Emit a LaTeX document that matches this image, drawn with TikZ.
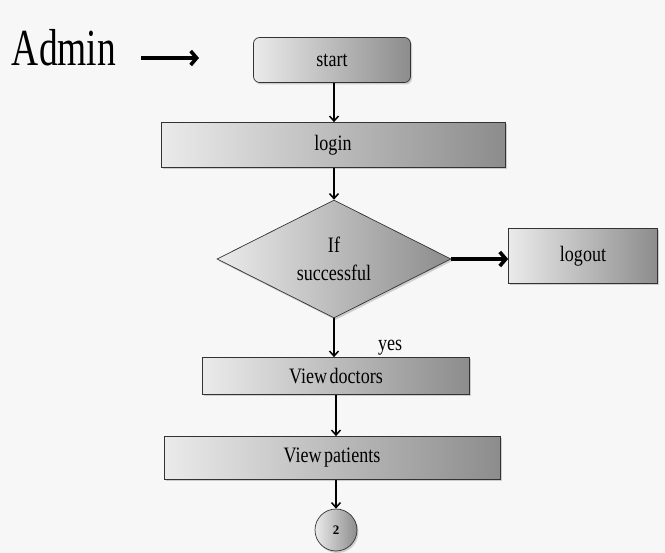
\documentclass[tikz,border=0pt]{standalone}
\usepackage{fontspec}
\setmainfont{Liberation Serif}
\newfontfamily\narrowserif[FakeStretch=0.82]{Liberation Serif}
\newfontfamily\titleserif[FakeStretch=0.72]{Liberation Serif}
\usepackage{tikz}
\usetikzlibrary{arrows.meta,shapes.geometric,shadows}

\tikzset{
	shade box/.style={draw=black!80, line width=0.7pt, left color=white!92!black, right color=black!45,
		drop shadow={opacity=0.35, shadow xshift=1.5pt, shadow yshift=-2pt},
		font=\narrowserif\fontsize{22}{26}\selectfont, inner sep=0pt},
	flow/.style={-{Straight Barb[length=5pt,width=9pt]}, line width=1.5pt},
	bold flow/.style={-{Straight Barb[length=6pt,width=14pt]}, line width=3.6pt},
}

\begin{document}
\begin{tikzpicture}[x=1pt,y=1pt]
	\fill[white!97!black] (0,0) rectangle (665,-553); %page
	\useasboundingbox (0,0) rectangle (665,-553);
	\node (admin) at (64,-48) {\titleserif\fontsize{52}{52}\selectfont Admin};
	\coordinate (a1) at (141,-58);
	\coordinate (a2) at (199,-58);
	\draw[bold flow] (a1) -- (a2); % pointer to start
	\node[shade box, rounded corners=6pt, minimum width=157pt, minimum height=45pt] (start) at (332,-60) {start};
	\node[shade box, minimum width=344pt, minimum height=45pt] (login) at (333,-145) {login};
	\node[shade box, diamond, minimum width=234pt, minimum height=118pt, align=center,
		font=\narrowserif\fontsize{22}{28}\selectfont] (check) at (334,-259) {If\\successful};
	\node[shade box, minimum width=149pt, minimum height=55pt] (logout) at (583,-256) {logout};
	\node[shade box, minimum width=267pt, minimum height=37pt] (doctors) at (336,-376) {View\hspace{-2pt} doctors};
	\node[shade box, minimum width=336pt, minimum height=43pt] (patients) at (332,-458) {View\hspace{-2pt} patients};
	\node[shade box, circle, minimum size=42pt, font=\fontsize{13}{13}\selectfont\bfseries] (conn) at (336,-530) {2};
	\draw[flow] (start.south -| 334,0) -- (login.north -| 334,0);
	\draw[flow] (login.south -| 334,0) -- (check.north);
	\draw[bold flow] (check.east) -- (logout.west |- check.east); % fail
	\draw[flow] (check.south) -- (doctors.north -| check.south) node[pos=0.75, right=40pt] {\narrowserif\fontsize{22}{26}\selectfont yes};
	\draw[flow] (doctors.south) -- (patients.north -| doctors.south);
	\draw[flow] (patients.south -| conn.north) -- (conn.north);
\end{tikzpicture}
\end{document}
